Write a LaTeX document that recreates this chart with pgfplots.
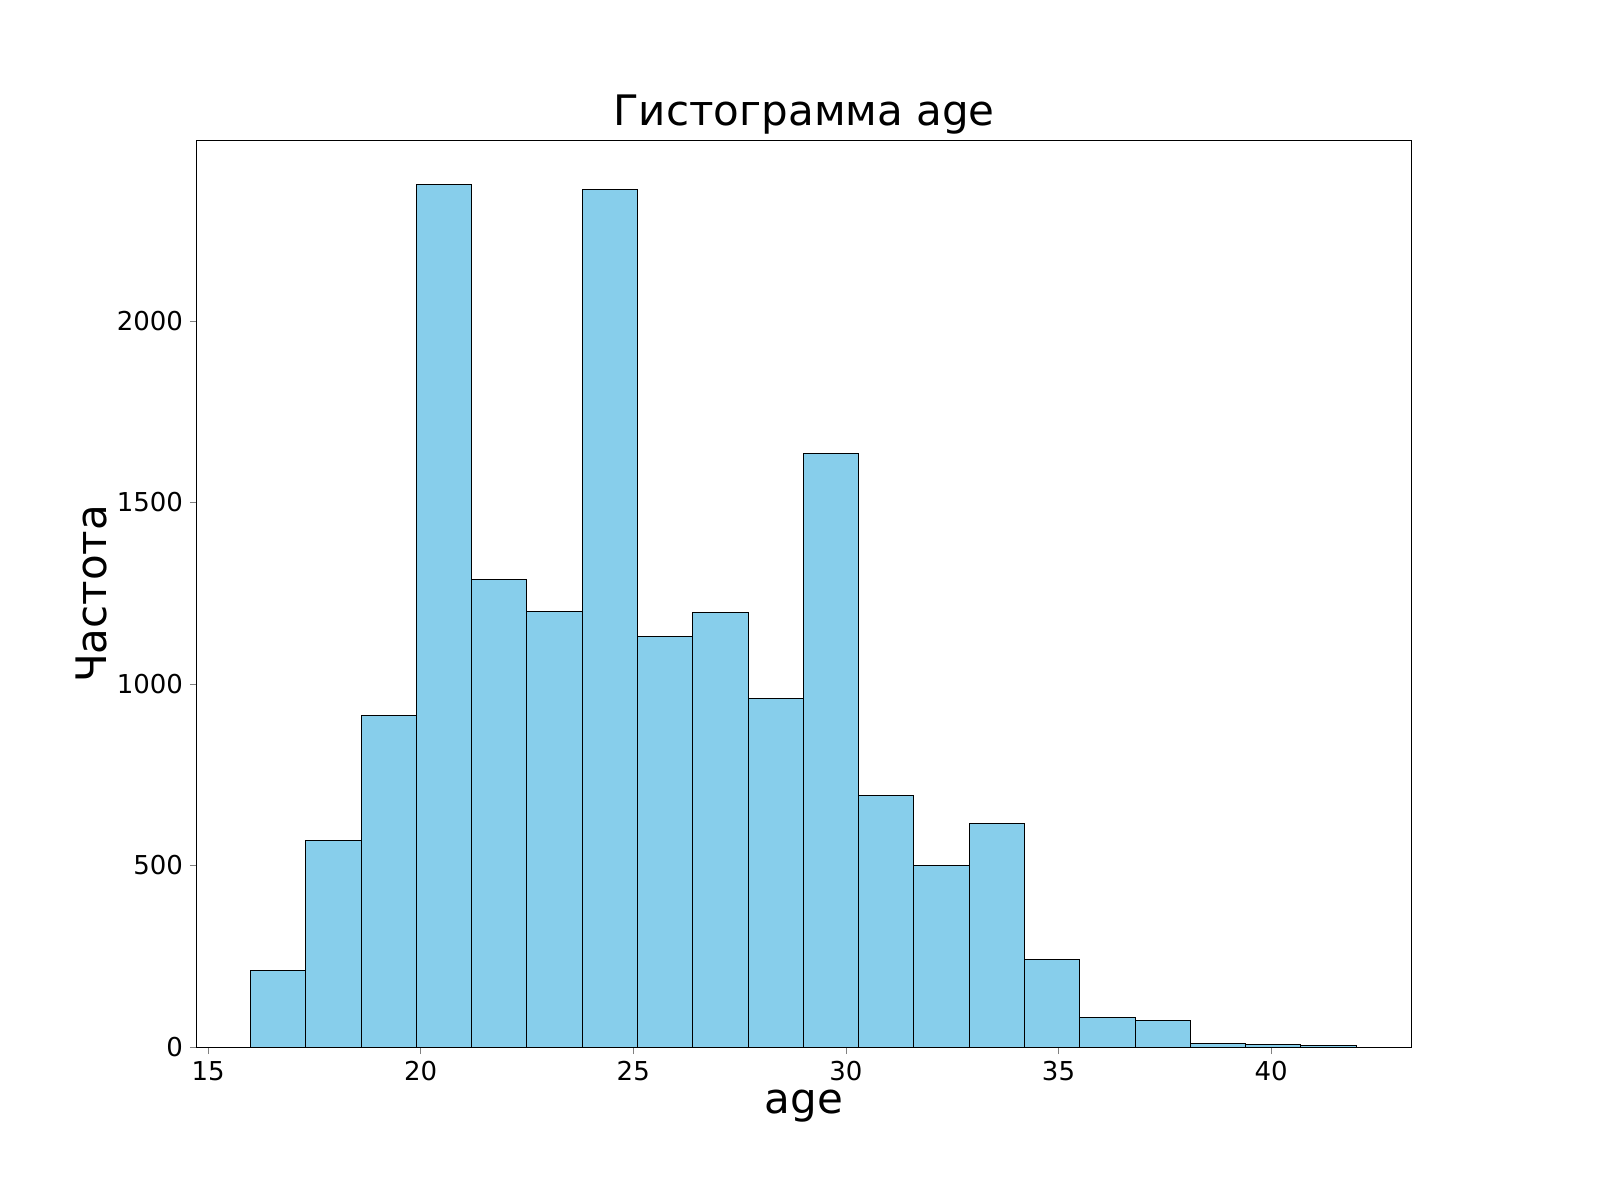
\documentclass[border=0pt]{standalone}
\usepackage{pgfplots}
\pgfplotsset{compat=1.18}
\usepackage{fontspec}
\setmainfont{DejaVu Sans}
\begin{document}
\begin{tikzpicture}
\useasboundingbox (-98.5pt,-76.5pt) rectangle (701.5pt,523.5pt);
\begin{axis}[at={(0,0)},anchor=south west,scale only axis,
width=607pt,height=453pt,
xmin=14.74,xmax=43.29,ymin=0,ymax=2496,
xtick={15,20,...,40},ytick={0,500,1000,1500,2000},
tick align=outside,major tick length=3.5pt,
xtick pos=bottom,ytick pos=left,
/pgf/number format/assume math mode=true,
/pgf/number format/1000 sep={},
ticklabel style={font=\fontsize{13}{15}\selectfont},
title={Гистограмма age},title style={font=\fontsize{21}{25}\selectfont,yshift=-6pt},
xlabel={age},ylabel={Частота},
label style={font=\fontsize{21}{25}\selectfont},
xlabel style={yshift=2pt},ylabel style={yshift=-2pt},
axis line style={line width=0.5pt}]
\addplot[ybar interval,fill={rgb,255:red,135;green,206;blue,235},draw=black,line width=0.5pt] coordinates {
(16,212)(17.3,570)(18.6,912)(19.9,2377)(21.2,1287)(22.5,1201)(23.8,2361)(25.1,1132)(26.4,1198)(27.7,959)(29.0,1636)(30.3,694)(31.6,501)(32.9,617)(34.2,240)(35.5,80)(36.8,72)(38.1,11)(39.4,8)(40.7,3)(42.0,3)};
\end{axis}
\end{tikzpicture}
\end{document}
